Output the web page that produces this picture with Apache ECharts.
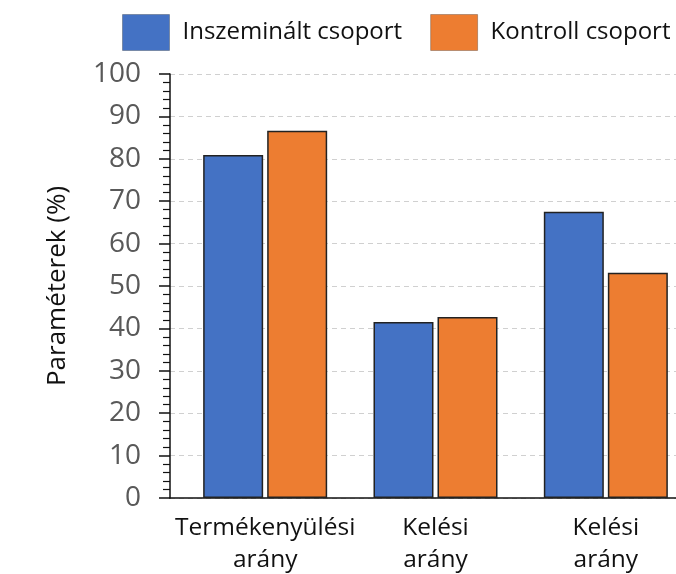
<!DOCTYPE html>
<html>
<head>
<meta charset="utf-8">
<script src="https://cdn.jsdelivr.net/npm/echarts@6/dist/echarts.min.js"></script>
<style>
  html, body { margin: 0; padding: 0; background: #fff; }
  #chart { width: 676px; height: 574px; }
</style>
</head>
<body>
<div id="chart"></div>
<script>
// Categories (two-line labels) and the two group series, in percent
const categories = ['Termékenyülési\narány', 'Kelési\narány', 'Kelési\narány'];
const inszeminalt = [80.9, 41.5, 67.5];
const kontroll = [86.6, 42.7, 53.1];
const yTicks = { min: 0, max: 100, interval: 10 };

const FONT = '"Open Sans", "Noto Sans", sans-serif';
const barBorder = { borderColor: '#222', borderWidth: 1.5 };

const chart = echarts.init(document.getElementById('chart'), null, { renderer: 'canvas' });

chart.setOption({
  animation: false,
  backgroundColor: '#ffffff',
  textStyle: { fontFamily: FONT },
  legend: {
    top: 14,
    left: 122,
    padding: 0,
    itemWidth: 47,
    itemHeight: 36,
    itemGap: 28,
    icon: 'rect',
    itemStyle: { borderColor: 'rgba(0,0,0,0.25)', borderWidth: 1 },
    textStyle: { fontSize: 24, color: '#111', fontFamily: FONT, padding: [0, 0, 0, 8] },
    data: ['Inszeminált csoport', 'Kontroll csoport']
  },
  grid: [
    // frame grid: y axis, gridlines and baseline
    { left: 170, right: 0, top: 74, bottom: 76, containLabel: false, outerBoundsMode: 'none' },
    // bar grid: category bands start a little right of the y axis and run past the right edge
    { left: 180, width: 511, top: 74, bottom: 76, containLabel: false, outerBoundsMode: 'none' }
  ],
  xAxis: [
    {
      gridIndex: 0,
      type: 'value',
      min: 0,
      max: 1,
      axisLine: { show: true, onZero: false, lineStyle: { color: '#111', width: 1.5 } },
      axisTick: { show: false },
      axisLabel: { show: false },
      splitLine: { show: false }
    },
    {
      gridIndex: 1,
      type: 'category',
      data: categories,
      axisLine: { show: false },
      axisTick: { show: false },
      axisLabel: {
        interval: 0,
        fontSize: 24.5,
        lineHeight: 32,
        color: '#111',
        margin: 14,
        fontFamily: FONT
      }
    }
  ],
  yAxis: [
    {
      gridIndex: 0,
      type: 'value',
      min: yTicks.min,
      max: yTicks.max,
      interval: yTicks.interval,
      name: 'Paraméterek (%)',
      nameLocation: 'middle',
      nameRotate: 90,
      nameGap: 99,
      nameTextStyle: { fontSize: 26, color: '#111', fontFamily: FONT },
      axisLine: { show: true, lineStyle: { color: '#111', width: 1.5 } },
      axisTick: { show: true, inside: false, length: 11, lineStyle: { color: '#111', width: 1.5 } },
      minorTick: { show: true, splitNumber: 5, length: 7, lineStyle: { color: '#111', width: 1.2 } },
      axisLabel: { fontSize: 28, color: '#595959', margin: 29, fontFamily: FONT },
      splitLine: { show: true, lineStyle: { color: '#d0d0d0', type: [5, 4], width: 1 } }
    },
    {
      gridIndex: 1,
      type: 'value',
      min: yTicks.min,
      max: yTicks.max,
      interval: yTicks.interval,
      show: false,
      splitLine: { show: false }
    }
  ],
  series: [
    {
      name: 'Inszeminált csoport',
      type: 'bar',
      xAxisIndex: 1,
      yAxisIndex: 1,
      data: inszeminalt,
      barWidth: 60,
      barGap: '6.7%',
      itemStyle: Object.assign({ color: '#4472C4' }, barBorder)
    },
    {
      name: 'Kontroll csoport',
      type: 'bar',
      xAxisIndex: 1,
      yAxisIndex: 1,
      data: kontroll,
      barWidth: 60,
      barGap: '6.7%',
      itemStyle: Object.assign({ color: '#ED7D31' }, barBorder)
    }
  ]
});
</script>
</body>
</html>
